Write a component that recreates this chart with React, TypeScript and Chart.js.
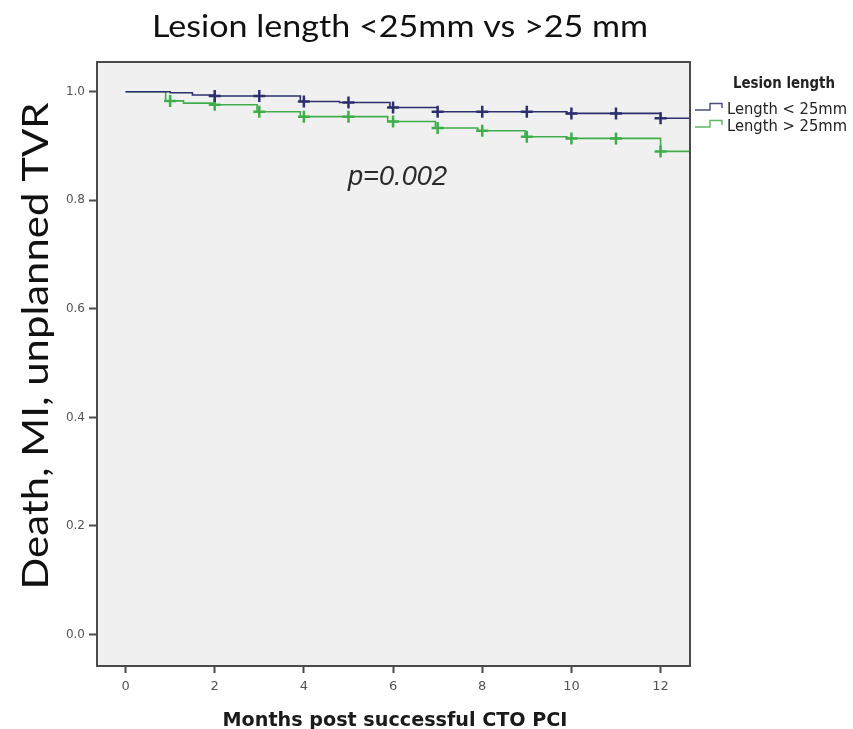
import React, { useEffect, useRef } from 'react';
import { Chart, registerables } from 'chart.js';

Chart.register(...registerables);

// Axis ticks and ranges
const MONTH_TICKS = [0, 2, 4, 6, 8, 10, 12];
const SURVIVAL_TICKS = [0, 0.2, 0.4, 0.6, 0.8, 1.0];
const MONTH_MIN = -0.64;
const MONTH_MAX = 12.66;
const SURVIVAL_MIN = -0.058;
const SURVIVAL_MAX = 1.0547;

// Lesion length < 25mm: months where the curve steps, and the survival after each step
const SHORT_LABEL = 'Length < 25mm';
const SHORT_EVENT_MONTHS = [0, 1.0, 1.5, 2.0, 3.92, 4.8, 5.93, 7.0, 9.9, 12.0, 12.66];
const SHORT_SURVIVAL = [1.0, 0.998, 0.994, 0.992, 0.982, 0.98, 0.971, 0.963, 0.96, 0.951, 0.951];
const SHORT_CENSORED_MONTHS = [2, 3, 4, 5, 6, 7, 8, 9, 10, 11, 12];

// Lesion length > 25mm
const LONG_LABEL = 'Length > 25mm';
const LONG_EVENT_MONTHS = [0, 0.9, 1.3, 2.0, 2.95, 3.92, 5.88, 6.95, 7.9, 8.96, 9.9, 12.0, 12.66];
const LONG_SURVIVAL = [1.0, 0.983, 0.979, 0.976, 0.963, 0.954, 0.945, 0.933, 0.928, 0.917, 0.914, 0.89, 0.89];
const LONG_CENSORED_MONTHS = [1, 2, 3, 4, 5, 6, 7, 8, 9, 10, 11, 12];

const TITLE = 'Lesion length <25mm vs >25 mm';
const Y_TITLE = 'Death, MI, unplanned TVR';
const X_TITLE = 'Months post successful CTO PCI';
const LEGEND_TITLE = 'Lesion length';
const P_VALUE = 'p=0.002';

const SHORT_COLOR = '#2c2f6e';
const LONG_COLOR = '#3fae4a';
const PLOT_BG = '#f0f0f0';
const FRAME = '#4a4a4a';

function survivalAt(months: number[], surv: number[], t: number): number {
  let s = surv[0];
  for (let i = 0; i < months.length; i++) {
    if (months[i] <= t + 1e-9) s = surv[i];
  }
  return s;
}

function curve(months: number[], surv: number[]) {
  return months.map((m, i) => ({ x: m, y: surv[i] }));
}

function censorMarks(censored: number[], months: number[], surv: number[]) {
  return censored.map((m) => ({ x: m, y: survivalAt(months, surv, m) }));
}

// Draws text stretched horizontally to a given width
function fittedText(
  ctx: CanvasRenderingContext2D,
  text: string,
  font: string,
  x: number,
  y: number,
  width: number,
  align: CanvasTextAlign,
  angle = 0,
  color = '#111'
) {
  ctx.save();
  ctx.font = font;
  const natural = ctx.measureText(text).width;
  ctx.translate(x, y);
  ctx.rotate(angle);
  ctx.scale(width / natural, 1);
  ctx.textAlign = align;
  ctx.textBaseline = 'alphabetic';
  ctx.fillStyle = color;
  ctx.fillText(text, 0, 0);
  ctx.restore();
}

function stepIcon(ctx: CanvasRenderingContext2D, x: number, y: number, color: string) {
  ctx.save();
  ctx.strokeStyle = color;
  ctx.lineWidth = 1.4;
  ctx.beginPath();
  ctx.moveTo(x, y);
  ctx.lineTo(x + 15, y);
  ctx.lineTo(x + 15, y - 6.5);
  ctx.lineTo(x + 27, y - 6.5);
  ctx.lineTo(x + 27, y - 2);
  ctx.stroke();
  ctx.restore();
}

const decorations = {
  id: 'kmDecorations',
  beforeDraw(chart: any) {
    const { ctx, chartArea: a } = chart;
    ctx.save();
    ctx.fillStyle = '#ffffff';
    ctx.fillRect(0, 0, chart.width, chart.height);
    ctx.fillStyle = PLOT_BG;
    ctx.fillRect(a.left, a.top, a.right - a.left, a.bottom - a.top);
    ctx.restore();
  },
  afterDatasetsDraw(chart: any) {
    const { ctx, chartArea: a } = chart;
    ctx.save();
    ctx.strokeStyle = FRAME;
    ctx.lineWidth = 2;
    ctx.strokeRect(a.left, a.top, a.right - a.left, a.bottom - a.top);
    ctx.restore();
  },
  afterDraw(chart: any) {
    const ctx: CanvasRenderingContext2D = chart.ctx;
    fittedText(ctx, TITLE, '31px Lato', 400, 37, 496, 'center');
    fittedText(ctx, Y_TITLE, '37px Lato', 48, 346, 487, 'center', -Math.PI / 2);
    fittedText(ctx, X_TITLE, 'bold 19px "DejaVu Sans"', 395, 726, 345, 'center', 0, '#1a1a1a');
    fittedText(ctx, P_VALUE, 'italic 28px "Liberation Sans"', 348, 185, 99, 'left', 0, '#2a2a2a');

    // legend
    fittedText(ctx, LEGEND_TITLE, 'bold 15px "DejaVu Sans"', 733, 88, 102, 'left', 0, '#222');
    stepIcon(ctx, 695, 110, '#4b4f80');
    stepIcon(ctx, 695, 127, '#5cb860');
    fittedText(ctx, SHORT_LABEL, '15px "DejaVu Sans"', 727, 114, 120, 'left', 0, '#222');
    fittedText(ctx, LONG_LABEL, '15px "DejaVu Sans"', 727, 131, 120, 'left', 0, '#222');
  },
};

export default function App() {
  const ref = useRef<HTMLCanvasElement | null>(null);

  useEffect(() => {
    if (!ref.current) return;
    const chart = new Chart(ref.current, {
      type: 'scatter',
      data: {
        datasets: [
          {
            label: SHORT_LABEL,
            data: curve(SHORT_EVENT_MONTHS, SHORT_SURVIVAL),
            showLine: true,
            stepped: 'before',
            borderColor: SHORT_COLOR,
            borderWidth: 1.6,
            pointRadius: 0,
          },
          {
            label: SHORT_LABEL + ' censored',
            data: censorMarks(SHORT_CENSORED_MONTHS, SHORT_EVENT_MONTHS, SHORT_SURVIVAL),
            showLine: false,
            pointStyle: 'cross',
            pointRadius: 6,
            borderColor: SHORT_COLOR,
            borderWidth: 2.5,
          },
          {
            label: LONG_LABEL,
            data: curve(LONG_EVENT_MONTHS, LONG_SURVIVAL),
            showLine: true,
            stepped: 'before',
            borderColor: LONG_COLOR,
            borderWidth: 1.6,
            pointRadius: 0,
          },
          {
            label: LONG_LABEL + ' censored',
            data: censorMarks(LONG_CENSORED_MONTHS, LONG_EVENT_MONTHS, LONG_SURVIVAL),
            showLine: false,
            pointStyle: 'cross',
            pointRadius: 6,
            borderColor: LONG_COLOR,
            borderWidth: 2.5,
          },
        ],
      },
      options: {
        animation: false,
        responsive: false,
        layout: { padding: { left: 0, top: 62, right: 163, bottom: 0 } },
        plugins: {
          legend: { display: false },
          title: { display: false },
          tooltip: { enabled: false },
        },
        scales: {
          x: {
            type: 'linear',
            min: MONTH_MIN,
            max: MONTH_MAX,
            afterBuildTicks: (s: any) => {
              s.ticks = MONTH_TICKS.map((v) => ({ value: v }));
            },
            afterFit: (s: any) => {
              s.height = 63;
            },
            border: { display: false },
            grid: {
              drawOnChartArea: false,
              drawTicks: true,
              tickLength: 7,
              tickColor: FRAME,
              tickWidth: 2,
            },
            ticks: {
              autoSkip: false,
              maxRotation: 0,
              padding: 6,
              color: '#555',
              font: { family: '"DejaVu Sans"', size: 13 },
              callback: (v: any) => String(v),
            },
          },
          y: {
            type: 'linear',
            min: SURVIVAL_MIN,
            max: SURVIVAL_MAX,
            afterBuildTicks: (s: any) => {
              s.ticks = SURVIVAL_TICKS.map((v) => ({ value: v }));
            },
            afterFit: (s: any) => {
              s.width = 97;
            },
            border: { display: false },
            grid: {
              drawOnChartArea: false,
              drawTicks: true,
              tickLength: 8,
              tickColor: FRAME,
              tickWidth: 2,
            },
            ticks: {
              autoSkip: false,
              padding: 4,
              color: '#555',
              font: { family: '"DejaVu Sans"', size: 12 },
              callback: (v: any) => Number(v).toFixed(1),
            },
          },
        },
      },
      plugins: [decorations],
    });
    return () => chart.destroy();
  }, []);

  return (
    <div style={{ position: 'fixed', left: 0, top: 0, width: 853, height: 729, background: '#fff' }}>
      <canvas ref={ref} width={853} height={729} style={{ display: 'block', width: 853, height: 729 }} />
    </div>
  );
}
